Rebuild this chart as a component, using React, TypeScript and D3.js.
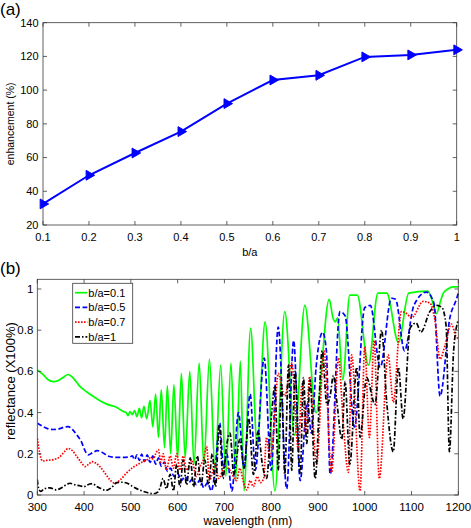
import React from "react";
import * as d3 from "d3";

// ---------- panel (a) data ----------
const ratioB = [0.1, 0.2, 0.3, 0.4, 0.5, 0.6, 0.7, 0.8, 0.9, 1.0];
const enhancement = [32.5, 49.5, 62.7, 75.4, 92, 106, 108.8, 119.7, 120.9, 123.9];
const aXTicks = [0.1, 0.2, 0.3, 0.4, 0.5, 0.6, 0.7, 0.8, 0.9, 1];
const aYTicks = [20, 40, 60, 80, 100, 120, 140];

// ---------- panel (b) data: [wavelength nm, reflectance] ----------
const green01: [number, number][] = [
  [300,0.607],[312,0.585],[322,0.562],[334,0.55],[345,0.556],[356,0.572],[366,0.585],[375,0.572],[390,0.53],[406,0.50],[420,0.478],[434,0.458],[450,0.44],[470,0.425],[484,0.405],[490,0.40],[494,0.385],[498,0.405],[503,0.39],[508,0.41],[513,0.38],[518,0.42],[523,0.375],[528,0.43],[534,0.37],[541,0.46],[547,0.33],[553,0.49],[559,0.28],[565,0.51],[572,0.23],[578,0.53],[585,0.20],[592,0.535],[600,0.18],[608,0.59],[616,0.18],[626,0.60],[635,0.15],[646,0.64],[656,0.15],[668,0.66],[680,0.12],[692,0.63],[703,0.09],[714,0.64],[724,0.07],[734,0.65],[742,0.02],[756,0.81],[770,0.24],[787,0.84],[808,0.02],[829,0.89],[850,0.29],[872,0.92],[896,0.40],[924,0.95],[932,0.86],[937,0.84],[942,0.86],[953,0.56],[968,0.97],[984,0.97],[1008,0.63],[1028,0.98],[1047,0.98],[1072,0.74],[1094,0.98],[1135,0.99],[1146,0.93],[1153,0.88],[1162,0.94],[1168,0.98],[1178,1.0],[1188,1.01],[1200,1.01]
];
const blue05: [number, number][] = [
  [300,0.348],[310,0.335],[322,0.322],[334,0.318],[348,0.322],[358,0.33],[366,0.332],[375,0.318],[385,0.29],[394,0.26],[402,0.215],[409,0.195],[418,0.205],[428,0.215],[438,0.208],[450,0.19],[465,0.183],[484,0.183],[498,0.185],[503,0.19],[508,0.172],[513,0.195],[518,0.168],[523,0.198],[529,0.163],[535,0.195],[541,0.158],[547,0.19],[553,0.15],[559,0.18],[565,0.14],[572,0.16],[578,0.115],[585,0.13],[592,0.09],[600,0.105],[608,0.07],[616,0.09],[624,0.06],[632,0.08],[640,0.05],[648,0.075],[656,0.035],[664,0.06],[672,0.02],[680,0.12],[690,0.35],[698,0.13],[705,0.20],[716,0.02],[730,0.40],[742,0.13],[755,0.49],[766,0.12],[785,0.665],[800,0.12],[815,0.815],[833,0.03],[848,0.75],[862,0.07],[877,0.45],[886,0.30],[896,0.62],[910,0.79],[918,0.70],[926,0.10],[947,0.89],[958,0.87],[978,0.33],[1000,0.91],[1012,0.92],[1033,0.62],[1057,0.955],[1066,0.95],[1085,0.70],[1105,0.92],[1132,0.985],[1148,0.93],[1161,0.48],[1182,0.86],[1196,0.95],[1200,0.98]
];
const red07: [number, number][] = [
  [300,0.275],[303,0.23],[307,0.185],[311,0.165],[320,0.168],[334,0.172],[348,0.185],[358,0.21],[366,0.226],[375,0.215],[385,0.185],[395,0.155],[402,0.138],[410,0.15],[417,0.162],[425,0.155],[434,0.137],[445,0.105],[455,0.075],[466,0.057],[478,0.075],[490,0.105],[505,0.135],[520,0.155],[534,0.17],[541,0.18],[548,0.175],[553,0.20],[559,0.22],[564,0.16],[569,0.20],[576,0.12],[584,0.19],[591,0.13],[598,0.20],[605,0.12],[612,0.19],[619,0.12],[630,0.17],[640,0.09],[648,0.14],[655,0.17],[662,0.235],[668,0.07],[680,0.15],[688,0.08],[701,0.14],[712,0.12],[726,0.07],[733,0.13],[741,0.06],[748,0.025],[755,0.07],[762,0.04],[770,0.09],[777,0.06],[784,0.08],[790,0.28],[797,0.18],[805,0.30],[815,0.59],[829,0.48],[844,0.64],[858,0.22],[866,0.54],[874,0.30],[882,0.575],[897,0.15],[913,0.70],[929,0.11],[944,0.665],[954,0.35],[965,0.11],[972,0.68],[990,0.02],[1000,0.72],[1010,0.28],[1020,0.75],[1031,0.08],[1050,0.68],[1061,0.45],[1078,0.89],[1090,0.88],[1100,0.86],[1125,0.94],[1140,0.93],[1150,0.85],[1161,0.66],[1172,0.73],[1185,0.83],[1195,0.77],[1200,0.76]
];
const black1: [number, number][] = [
  [300,0.075],[303,0.03],[307,0.018],[315,0.03],[327,0.035],[340,0.025],[352,0.035],[362,0.05],[370,0.057],[380,0.05],[391,0.045],[400,0.04],[406,0.048],[418,0.055],[428,0.04],[438,0.03],[446,0.022],[458,0.035],[470,0.06],[480,0.062],[491,0.058],[505,0.04],[519,0.024],[535,0.012],[548,0.006],[558,0.015],[563,0.04],[569,0.08],[576,0.03],[584,0.10],[591,0.02],[598,0.15],[605,0.04],[612,0.17],[619,0.05],[627,0.18],[634,0.04],[642,0.19],[650,0.05],[658,0.17],[666,0.05],[674,0.20],[681,0.04],[689,0.34],[697,0.08],[704,0.23],[712,0.30],[720,0.10],[733,0.27],[742,0.13],[752,0.37],[762,0.10],[772,0.31],[781,0.15],[790,0.08],[801,0.40],[808,0.53],[815,0.12],[822,0.54],[829,0.10],[837,0.63],[844,0.12],[851,0.60],[862,0.10],[869,0.57],[876,0.25],[883,0.56],[894,0.08],[909,0.70],[919,0.44],[926,0.48],[933,0.58],[940,0.46],[951,0.27],[958,0.55],[968,0.15],[983,0.62],[990,0.28],[1004,0.57],[1022,0.44],[1036,0.80],[1047,0.45],[1061,0.21],[1072,0.62],[1082,0.37],[1097,0.81],[1110,0.835],[1120,0.79],[1139,0.89],[1154,0.92],[1165,0.91],[1174,0.82],[1181,0.21],[1190,0.70],[1200,0.85]
];
const bXTicks = [300, 400, 500, 600, 700, 800, 900, 1000, 1100, 1200];
const bYTicks = [0, 0.2, 0.4, 0.6, 0.8, 1];
const legendLabels = ["b/a=0.1", "b/a=0.5", "b/a=0.7", "b/a=1"];

const FONT = "'Liberation Sans', Arial, Helvetica, sans-serif";
const AXIS = "#3a3a3a";

const seriesStyles = [
  { color: "#00ff00", dash: "none" },
  { color: "#0000ff", dash: "5,2.5" },
  { color: "#ff0000", dash: "1.6,1.4" },
  { color: "#000000", dash: "5,2,1.5,2" },
];

export default function App() {
  // ----- panel (a) -----
  const aL = 43, aR = 456.7, aT = 22.7, aB = 225;
  const ax = d3.scaleLinear().domain([0.1, 1]).range([aL, aR]);
  const ay = d3.scaleLinear().domain([20, 140]).range([aB, aT]);
  const aLine = d3
    .line<number>()
    .x((_, i) => ax(ratioB[i]))
    .y((d) => ay(d));
  const tri = d3.symbol().type(d3.symbolTriangle).size(42)() as string;

  // ----- panel (b) -----
  const bL = 37.3, bR = 458.3, bT = 279.3, bB = 495;
  const bx = d3.scaleLinear().domain([300, 1200]).range([bL, bR]);
  const by = d3.scaleLinear().domain([0, 1.047]).range([bB, bT]);
  const bLine = d3
    .line<[number, number]>()
    .x((d) => bx(d[0]))
    .y((d) => by(d[1]))
    .curve(d3.curveMonotoneX);
  const bSeries = [green01, blue05, red07, black1];
  const tl = 4;

  return (
    <svg
      width={471}
      height={528}
      style={{ position: "absolute", left: 0, top: 0, background: "#fff" }}
      fontFamily={FONT}
    >
      <rect x={0} y={0} width={471} height={528} fill="#fff" />
      {/* ===== Panel (a) ===== */}
      <text x={0} y={14.5} fontSize={17} fill="#000">(a)</text>
      <rect x={aL} y={aT} width={aR - aL} height={aB - aT} fill="none" stroke={AXIS} strokeWidth={0.8} />
      {aXTicks.map((t) => (
        <g key={"ax" + t}>
          <line x1={ax(t)} x2={ax(t)} y1={aB} y2={aB - tl} stroke={AXIS} strokeWidth={0.8} />
          <line x1={ax(t)} x2={ax(t)} y1={aT} y2={aT + tl} stroke={AXIS} strokeWidth={0.8} />
          <text x={ax(t)} y={241} fontSize={11} textAnchor="middle" fill="#000">{String(t)}</text>
        </g>
      ))}
      {aYTicks.map((t) => (
        <g key={"ay" + t}>
          <line x1={aL} x2={aL + tl} y1={ay(t)} y2={ay(t)} stroke={AXIS} strokeWidth={0.8} />
          <line x1={aR} x2={aR - tl} y1={ay(t)} y2={ay(t)} stroke={AXIS} strokeWidth={0.8} />
          <text x={aL - 4.5} y={ay(t)} dy="0.35em" fontSize={11} textAnchor="end" fill="#000">{t}</text>
        </g>
      ))}
      <text x={(aL + aR) / 2} y={256} fontSize={11} textAnchor="middle" fill="#000">b/a</text>
      <text
        transform={`translate(10,${(aT + aB) / 2}) rotate(-90)`}
        fontSize={10.5}
        textAnchor="middle"
        dy="0.35em"
        fill="#000"
      >
        enhancement (%)
      </text>
      <path d={aLine(enhancement) || ""} fill="none" stroke="#0000ff" strokeWidth={2} />
      {enhancement.map((v, i) => (
        <path
          key={"m" + i}
          d={tri}
          transform={`translate(${ax(ratioB[i])},${ay(v)}) rotate(90)`}
          fill="#0000ff"
          stroke="#0000ff"
          strokeWidth={1}
        />
      ))}

      {/* ===== Panel (b) ===== */}
      <text x={0} y={274} fontSize={17} fill="#000">(b)</text>
      <defs>
        <clipPath id="bclip">
          <rect x={bL} y={bT - 4} width={bR - bL + 2} height={bB - bT + 4} />
        </clipPath>
      </defs>
      <g clipPath="url(#bclip)">
        {bSeries.map((s, i) => (
          <path
            key={"s" + i}
            d={bLine(s) || ""}
            fill="none"
            stroke={seriesStyles[i].color}
            strokeWidth={1.7}
            strokeDasharray={seriesStyles[i].dash}
            strokeLinejoin="round"
          />
        ))}
      </g>
      <rect x={bL} y={bT} width={bR - bL} height={bB - bT} fill="none" stroke={AXIS} strokeWidth={0.8} />
      {bXTicks.map((t) => (
        <g key={"bx" + t}>
          <line x1={bx(t)} x2={bx(t)} y1={bB} y2={bB - tl} stroke={AXIS} strokeWidth={0.8} />
          <line x1={bx(t)} x2={bx(t)} y1={bT} y2={bT + tl} stroke={AXIS} strokeWidth={0.8} />
          <text x={bx(t)} y={511} fontSize={11.5} textAnchor="middle" fill="#000">{t}</text>
        </g>
      ))}
      {bYTicks.map((t) => (
        <g key={"by" + t}>
          <line x1={bL} x2={bL + tl} y1={by(t)} y2={by(t)} stroke={AXIS} strokeWidth={0.8} />
          <line x1={bR} x2={bR - tl} y1={by(t)} y2={by(t)} stroke={AXIS} strokeWidth={0.8} />
          <text x={bL - 4} y={by(t)} dy="0.35em" fontSize={11.5} textAnchor="end" fill="#000">{String(t)}</text>
        </g>
      ))}
      <text x={(bL + bR) / 2} y={525} fontSize={12} textAnchor="middle" fill="#000">wavelength (nm)</text>
      <text
        transform={`translate(10,381) rotate(-90)`}
        fontSize={13}
        textAnchor="middle"
        dy="0.35em"
        fill="#000"
      >
        reflectance (X100%)
      </text>

      {/* legend */}
      <rect x={72.7} y={283.3} width={60} height={60} fill="#fff" stroke={AXIS} strokeWidth={0.8} />
      {legendLabels.map((lab, i) => {
        const yy = 292.7 + i * 14.7;
        return (
          <g key={"lg" + i}>
            <line
              x1={75}
              x2={87.3}
              y1={yy}
              y2={yy}
              stroke={seriesStyles[i].color}
              strokeWidth={1.7}
              strokeDasharray={seriesStyles[i].dash}
            />
            <text x={88.3} y={yy} dy="0.35em" fontSize={11} fill="#000">{lab}</text>
          </g>
        );
      })}
    </svg>
  );
}
